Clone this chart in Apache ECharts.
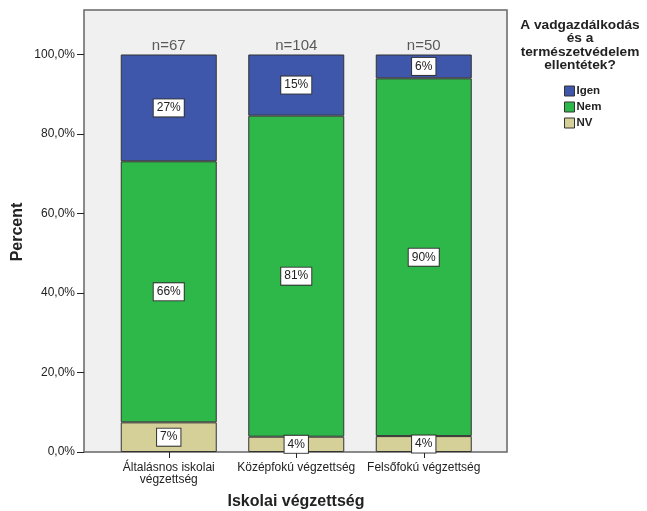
<!DOCTYPE html>
<html>
<head>
<meta charset="utf-8">
<script src="https://cdn.jsdelivr.net/npm/echarts@6/dist/echarts.min.js"></script>
<style>html,body{margin:0;padding:0;background:#fff}#c{width:647px;height:511px}</style>
</head>
<body>
<div id="c"></div>
<script>
var categories = ['Általásnos iskolai\nvégzettség', 'Középfokú végzettség', 'Felsőfokú végzettség'];
var nCounts = ['n=67', 'n=104', 'n=50'];
var nvValues = [7.46, 3.85, 4.0];
var nemValues = [65.67, 80.77, 90.0];
var igenValues = [26.87, 15.38, 6.0];
var yTicks = [0, 20, 40, 60, 80, 100];
var seriesNames = ['Igen', 'Nem', 'NV'];
var legendTitle = 'A vadgazdálkodás\nés a\ntermészetvédelem\nellentétek?';

var FONT = 'Arial, "Liberation Sans", sans-serif';
var chart = echarts.init(document.getElementById('c'));

function lbl() {
  return {
    show: true, position: 'inside',
    formatter: function (p) { return Math.round(p.value) + '%'; },
    backgroundColor: '#ffffff', borderColor: '#333', borderWidth: 1,
    padding: [3, 3, 2, 3], color: '#222', fontSize: 12, fontFamily: FONT
  };
}
var barCommon = { type: 'bar', stack: 'a', barWidth: 96 };

chart.setOption({
  animation: false,
  graphic: [
    { type: 'rect', z: -10, shape: { x: 84, y: 10, width: 423, height: 442 },
      style: { fill: '#f0f0f0', stroke: '#666', lineWidth: 1.5 } },
    { type: 'text', x: 580, y: 18, style: { text: legendTitle, font: 'bold 13.7px ' + FONT,
      fill: '#222', align: 'center', lineHeight: 13.5 } },
    { type: 'text', x: 296, y: 502, style: { text: 'Iskolai végzettség', font: 'bold 16px ' + FONT,
      fill: '#222', align: 'center', verticalAlign: 'middle' } },
    { type: 'text', x: 10, y: 232, rotation: Math.PI / 2, style: { text: 'Percent', font: 'bold 16px ' + FONT,
      fill: '#222', align: 'center', verticalAlign: 'top' } }
  ],
  legend: {
    data: seriesNames, orient: 'vertical', left: 559, top: 80,
    itemWidth: 10, itemHeight: 10, itemGap: 4,
    icon: 'rect',
    itemStyle: { borderColor: '#333', borderWidth: 1 },
    textStyle: { fontFamily: FONT, fontSize: 11.5, fontWeight: 'bold', color: '#222', padding: [0, 0, 0, -3] }
  },
  grid: { left: 105, width: 382.5, top: 54.5, height: 397.5 },
  xAxis: {
    type: 'category', data: categories,
    axisLine: { show: false },
    axisTick: { show: true, alignWithLabel: true, length: 6, lineStyle: { color: '#222' } },
    axisLabel: { fontFamily: FONT, fontSize: 12, color: '#222', margin: 10, lineHeight: 12, interval: 0 }
  },
  yAxis: {
    type: 'value', min: 0, max: 100, interval: 20, offset: 21,
    axisLine: { show: false },
    axisTick: { show: true, length: 7, lineStyle: { color: '#222' } },
    splitLine: { show: false },
    axisLabel: { fontFamily: FONT, fontSize: 12, color: '#222', margin: 9,
      formatter: function (v) { return yTicks.indexOf(v) >= 0 ? v.toFixed(1).replace('.', ',') + '%' : ''; } }
  },
  series: [
    Object.assign({}, barCommon, { name: 'NV', data: nvValues, itemStyle: { color: '#d5cf98', borderColor: '#333', borderWidth: 1 }, label: lbl() }),
    Object.assign({}, barCommon, { name: 'Nem', data: nemValues, itemStyle: { color: '#2eb84a', borderColor: '#333', borderWidth: 1 }, label: lbl() }),
    Object.assign({}, barCommon, { name: 'Igen', data: igenValues, itemStyle: { color: '#3e57aa', borderColor: '#333', borderWidth: 1 }, label: lbl() }),
    { type: 'scatter', name: 'n', symbolSize: 0, data: [100, 100, 100], silent: true,
      label: { show: true, position: 'top', distance: 1, fontFamily: FONT, fontSize: 15, color: '#333',
        formatter: function (p) { return nCounts[p.dataIndex]; } } }
  ]
});
</script>
</body>
</html>
